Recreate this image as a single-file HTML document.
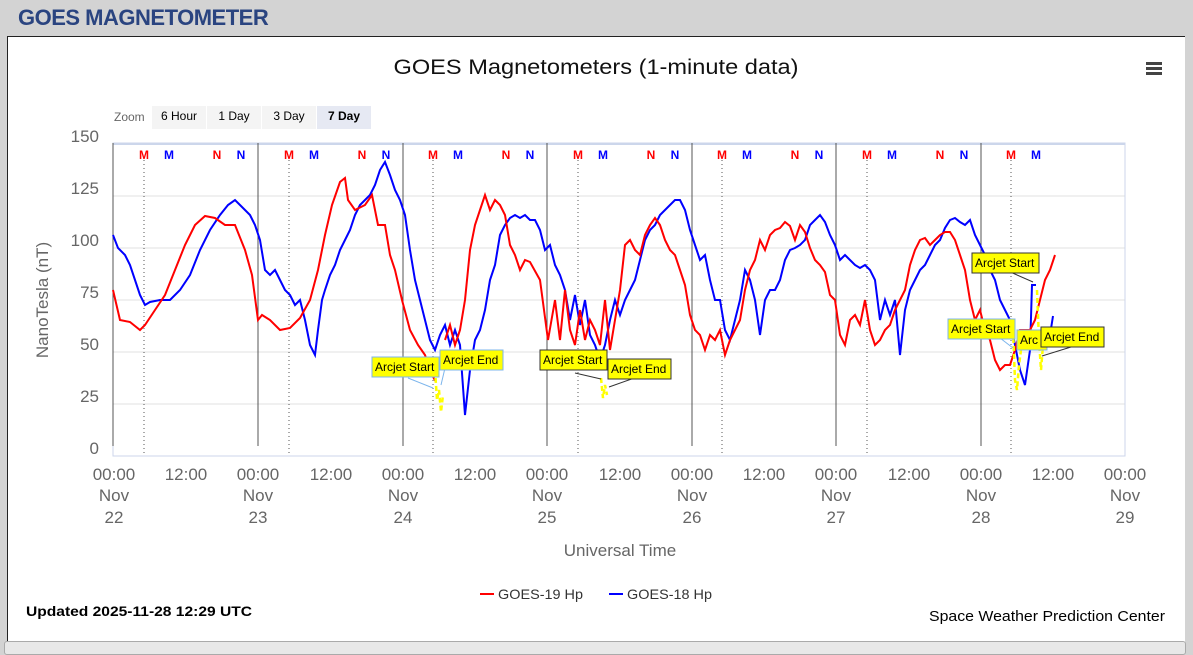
<!DOCTYPE html>
<html><head><meta charset="utf-8"><style>
body{margin:0;width:1193px;height:650px;background:#d3d3d3;overflow:hidden;font-family:"Liberation Sans",sans-serif;position:relative}
.hdr{position:absolute;left:18px;top:5px;font-size:22px;font-weight:bold;color:#2a4480;letter-spacing:-0.5px}
.panel{position:absolute;left:7px;top:36px;width:1177px;height:605px;background:#fff;border:1px solid #222;border-right:none}
.scroll{position:absolute;left:4px;top:641px;width:1180px;height:12px;background:#e8e8e8;border:1px solid #aaa;border-radius:3px}
svg{position:absolute;left:0;top:0}
</style></head><body>
<div class="hdr">GOES MAGNETOMETER</div>
<div class="panel"></div>
<div class="scroll"></div>
<svg width="1193" height="650" font-family="Liberation Sans, sans-serif">
<text x="596" y="74" text-anchor="middle" font-size="21" textLength="405" lengthAdjust="spacingAndGlyphs" fill="#111">GOES Magnetometers (1-minute data)</text>
<g fill="#444"><rect x="1146" y="62" width="16" height="3"/><rect x="1146" y="67" width="16" height="3"/><rect x="1146" y="72" width="16" height="3"/></g>
<text x="114" y="121" font-size="12" fill="#666">Zoom</text>
<rect x="152" y="106" width="54" height="23" fill="#f4f4f4"/><text x="179" y="120" font-size="12" text-anchor="middle">6 Hour</text>
<rect x="207" y="106" width="54" height="23" fill="#f4f4f4"/><text x="234" y="120" font-size="12" text-anchor="middle">1 Day</text>
<rect x="262" y="106" width="54" height="23" fill="#f4f4f4"/><text x="289" y="120" font-size="12" text-anchor="middle">3 Day</text>
<rect x="317" y="106" width="54" height="23" fill="#e6e9f3"/><text x="344" y="120" font-size="12" font-weight="bold" text-anchor="middle">7 Day</text>
<g stroke="#e0e0e0" stroke-width="1">
<line x1="113" x2="1125" y1="196" y2="196"/><line x1="113" x2="1125" y1="248" y2="248"/><line x1="113" x2="1125" y1="300" y2="300"/><line x1="113" x2="1125" y1="352" y2="352"/><line x1="113" x2="1125" y1="404" y2="404"/>
</g>
<rect x="113" y="143" width="1012" height="313" fill="none" stroke="#ccd6eb"/>
<line x1="113" x2="1125" y1="456" y2="456" stroke="#ccd6eb"/>
<line x1="113" x2="1125" y1="144" y2="144" stroke="#ccd6eb" stroke-width="2"/>
<g stroke="#555" stroke-width="1"><line x1="113" x2="113" y1="143" y2="446"/><line x1="258" x2="258" y1="143" y2="446"/><line x1="403" x2="403" y1="143" y2="446"/><line x1="547" x2="547" y1="143" y2="446"/><line x1="692" x2="692" y1="143" y2="446"/><line x1="836" x2="836" y1="143" y2="446"/><line x1="981" x2="981" y1="143" y2="446"/></g>
<g stroke="#555" stroke-width="1" stroke-dasharray="1,3"><line x1="144" x2="144" y1="160" y2="456"/><line x1="289" x2="289" y1="160" y2="456"/><line x1="433" x2="433" y1="160" y2="456"/><line x1="578" x2="578" y1="160" y2="456"/><line x1="722" x2="722" y1="160" y2="456"/><line x1="867" x2="867" y1="160" y2="456"/><line x1="1011" x2="1011" y1="160" y2="456"/></g>
<g font-size="12" font-weight="bold" text-anchor="middle">
<text x="144" y="159" fill="#f00">M</text><text x="169" y="159" fill="#00f">M</text><text x="217" y="159" fill="#f00">N</text><text x="241" y="159" fill="#00f">N</text>
<text x="289" y="159" fill="#f00">M</text><text x="314" y="159" fill="#00f">M</text><text x="362" y="159" fill="#f00">N</text><text x="386" y="159" fill="#00f">N</text>
<text x="433" y="159" fill="#f00">M</text><text x="458" y="159" fill="#00f">M</text><text x="506" y="159" fill="#f00">N</text><text x="530" y="159" fill="#00f">N</text>
<text x="578" y="159" fill="#f00">M</text><text x="603" y="159" fill="#00f">M</text><text x="651" y="159" fill="#f00">N</text><text x="675" y="159" fill="#00f">N</text>
<text x="722" y="159" fill="#f00">M</text><text x="747" y="159" fill="#00f">M</text><text x="795" y="159" fill="#f00">N</text><text x="819" y="159" fill="#00f">N</text>
<text x="867" y="159" fill="#f00">M</text><text x="892" y="159" fill="#00f">M</text><text x="940" y="159" fill="#f00">N</text><text x="964" y="159" fill="#00f">N</text>
<text x="1011" y="159" fill="#f00">M</text><text x="1036" y="159" fill="#00f">M</text>
</g>
<g font-size="17" fill="#666" text-anchor="end">
<text x="99" y="142">150</text><text x="99" y="194">125</text><text x="99" y="246">100</text><text x="99" y="298">75</text><text x="99" y="350">50</text><text x="99" y="402">25</text><text x="99" y="454">0</text>
</g>
<text transform="translate(48,300) rotate(-90)" font-size="17" fill="#666" text-anchor="middle">NanoTesla (nT)</text>
<g font-size="17" fill="#666" text-anchor="middle">
<text x="114" y="480">00:00</text><text x="114" y="501">Nov</text><text x="114" y="523">22</text>
<text x="186" y="480">12:00</text>
<text x="258" y="480">00:00</text><text x="258" y="501">Nov</text><text x="258" y="523">23</text>
<text x="331" y="480">12:00</text>
<text x="403" y="480">00:00</text><text x="403" y="501">Nov</text><text x="403" y="523">24</text>
<text x="475" y="480">12:00</text>
<text x="547" y="480">00:00</text><text x="547" y="501">Nov</text><text x="547" y="523">25</text>
<text x="620" y="480">12:00</text>
<text x="692" y="480">00:00</text><text x="692" y="501">Nov</text><text x="692" y="523">26</text>
<text x="764" y="480">12:00</text>
<text x="836" y="480">00:00</text><text x="836" y="501">Nov</text><text x="836" y="523">27</text>
<text x="909" y="480">12:00</text>
<text x="981" y="480">00:00</text><text x="981" y="501">Nov</text><text x="981" y="523">28</text>
<text x="1053" y="480">12:00</text>
<text x="1125" y="480">00:00</text><text x="1125" y="501">Nov</text><text x="1125" y="523">29</text>
</g>
<text x="620" y="556" font-size="17" fill="#666" text-anchor="middle">Universal Time</text>
<polyline fill="none" stroke="#00f" stroke-width="2" points="113,235 118,248 125,255 130,265 135,280 140,295 145,305 150,302 160,300 170,300 180,290 190,275 200,250 210,230 220,215 228,205 235,200 240,205 245,210 250,215 255,225 260,240 265,270 270,275 275,270 280,280 285,290 290,295 295,305 300,300 305,320 310,345 315,355 318,330 322,300 325,290 330,275 335,265 340,250 345,240 350,230 355,215 360,205 365,200 370,195 375,185 380,170 385,162 390,175 395,190 400,200 405,215 410,250 415,280 420,300 425,320 430,340 435,350 440,335 445,325 450,345 455,330 460,345 465,415 470,370 475,340 480,330 485,310 490,280 495,265 500,235 505,225 510,218 515,215 520,218 525,215 530,220 535,220 540,230 545,250 550,245 555,265 560,275 565,290 570,320 575,295 580,325 585,300 590,335 595,345 600,360 605,345 610,320 615,300 620,315 625,300 630,290 635,280 640,260 645,240 650,230 655,225 660,215 665,210 670,205 675,200 680,200 685,210 690,230 695,245 700,260 705,255 710,280 715,300 720,300 725,330 730,340 735,320 740,300 745,270 750,280 755,300 760,335 765,300 770,290 775,290 780,280 785,260 790,250 795,248 800,245 805,240 810,225 815,220 820,215 825,222 830,235 835,245 840,260 845,255 850,260 855,265 860,268 865,265 870,270 875,280 880,320 885,300 890,315 895,300 900,355 905,310 910,290 915,280 920,270 925,265 930,255 935,245 940,240 945,228 950,220 955,218 960,222 965,225 970,220 975,235 980,245 985,255 990,270 995,280 1000,300 1005,310 1010,320 1015,345 1020,370 1025,385 1030,350 1032,285 1036,285"/>
<polyline fill="none" stroke="#00f" stroke-width="2" points="1045,345 1050,335 1053,316"/>
<polyline fill="none" stroke="#f00" stroke-width="2" points="113,290 120,320 130,322 140,330 145,325 155,310 165,295 175,270 185,245 195,225 205,216 215,218 225,225 235,225 245,250 252,275 258,320 262,315 270,320 280,330 290,328 300,318 310,300 318,270 325,235 332,205 340,182 345,178 348,200 355,210 365,205 372,195 378,225 385,225 390,255 395,270 402,300 410,330 418,345 425,355 432,375 436,382"/>
<polyline fill="none" stroke="#f00" stroke-width="2" points="445,340 450,325 455,345 460,330 465,300 470,250 475,225 480,210 485,195 490,210 495,200 500,205 505,215 510,245 515,255 520,270 525,260 530,262 540,280 548,340 555,300 560,340 565,290 570,330 575,345 580,310 585,340 590,320 595,330 600,345 605,300 610,350 615,320 620,290 625,245 630,240 635,250 640,255 645,235 650,225 655,218 660,225 665,240 670,250 675,255 680,270 685,285 690,315 695,330 700,335 705,350 710,335 715,340 720,330 725,355 730,340 735,330 740,320 745,290 750,270 755,260 760,240 765,250 770,235 775,230 780,228 785,222 790,226 795,240 800,225 805,232 810,248 815,260 820,265 825,272 830,295 835,300 840,335 845,345 850,320 855,315 860,325 865,300 870,330 875,345 880,340 885,330 890,325 895,310 900,300 905,290 910,265 915,250 920,240 925,238 930,245 935,240 940,235 945,232 950,232 955,240 960,255 965,270 970,300 975,320 980,310 985,330 990,340 995,360 1000,370 1005,365 1010,365 1015,350 1020,330 1025,330 1030,330 1035,320 1040,300 1045,280 1050,270 1055,255"/>
<g fill="none" stroke="#ff0" stroke-width="2.5" stroke-dasharray="5,3">
<polyline points="435,370 437,400 439,390 441,412 443,395"/>
<polyline points="601,378 603,398 605,385 607,395"/>
<polyline points="1013,330 1015,380 1017,390 1019,365 1021,350"/>
<polyline points="1037,290 1039,340 1041,370 1043,345"/>
</g>
<g stroke-width="1">
<polyline points="408,378 433,388" stroke="#7cb5ec" fill="none"/><polyline points="445,368 441,385" stroke="#7cb5ec" fill="none"/>
<polyline points="575,373 601,379" stroke="#333" fill="none"/><polyline points="640,376 609,387" stroke="#333" fill="none"/>
<polyline points="1008,271 1033,282" stroke="#333" fill="none"/><polyline points="1000,338 1013,348" stroke="#7cb5ec" fill="none"/><polyline points="1071,347 1042,356" stroke="#333" fill="none"/>
<rect x="372" y="357" width="67" height="20" fill="#ff0" stroke="#7cb5ec"/>
<rect x="440" y="350" width="63" height="20" fill="#ff0" stroke="#7cb5ec"/>
<rect x="540" y="350" width="67" height="20" fill="#ff0" stroke="#333"/>
<rect x="608" y="359" width="63" height="20" fill="#ff0" stroke="#333"/>
<rect x="972" y="253" width="67" height="20" fill="#ff0" stroke="#333"/>
<rect x="948" y="319" width="67" height="20" fill="#ff0" stroke="#7cb5ec"/>
<rect x="1017" y="330" width="30" height="20" fill="#ff0" stroke="#7cb5ec"/>
<rect x="1041" y="327" width="63" height="20" fill="#ff0" stroke="#333"/>
</g>
<g font-size="12" fill="#000">
<text x="375" y="371">Arcjet Start</text><text x="443" y="364">Arcjet End</text>
<text x="543" y="364">Arcjet Start</text><text x="611" y="373">Arcjet End</text>
<text x="975" y="267">Arcjet Start</text><text x="951" y="333">Arcjet Start</text>
<text x="1020" y="344">Arc</text><text x="1044" y="341">Arcjet End</text>
</g>
<line x1="480" x2="494" y1="594" y2="594" stroke="#f00" stroke-width="2"/>
<text x="498" y="599" font-size="14" textLength="85" lengthAdjust="spacingAndGlyphs" fill="#333">GOES-19 Hp</text>
<line x1="609" x2="623" y1="594" y2="594" stroke="#00f" stroke-width="2"/>
<text x="627" y="599" font-size="14" textLength="85" lengthAdjust="spacingAndGlyphs" fill="#333">GOES-18 Hp</text>
<text x="26" y="616" font-size="14" font-weight="bold" textLength="226" lengthAdjust="spacingAndGlyphs" fill="#000">Updated 2025-11-28 12:29 UTC</text>
<text x="929" y="621" font-size="15" textLength="236" lengthAdjust="spacingAndGlyphs" fill="#000">Space Weather Prediction Center</text>
</svg>
</body></html>
